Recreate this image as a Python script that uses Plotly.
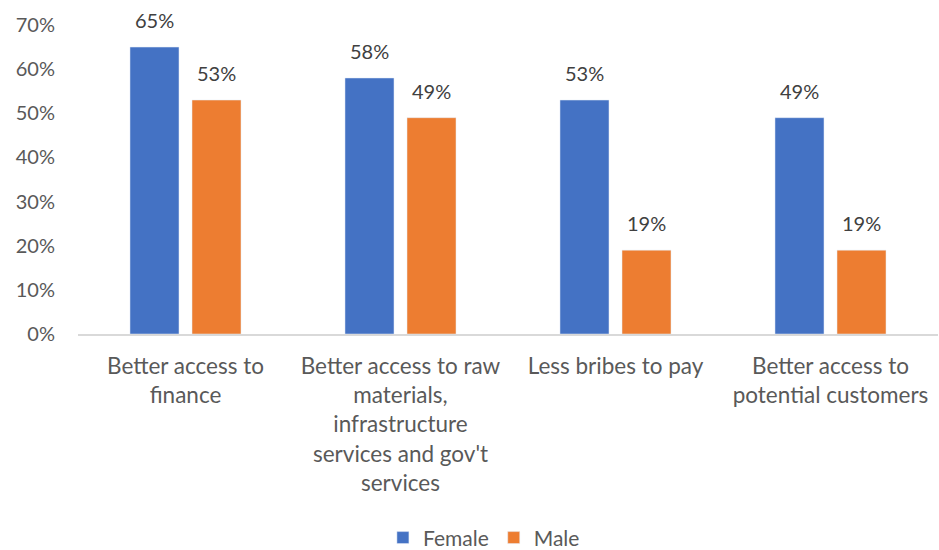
import plotly.graph_objects as go

categories = [
    "Better access to<br>finance",
    "Better access to raw<br>materials,<br>infrastructure<br>services and gov't<br>services",
    "Less bribes to pay",
    "Better access to<br>potential customers",
]
female = [0.65, 0.58, 0.53, 0.49]
male = [0.53, 0.49, 0.19, 0.19]
y_ticks = [0, 0.1, 0.2, 0.3, 0.4, 0.5, 0.6, 0.7]

FONT = "Lato"
GREY = "#595959"
series = [("Female", female, "#4472C4"), ("Male", male, "#ED7D31")]

fig = go.Figure()
for name, vals, color in series:
    fig.add_trace(go.Bar(name=name, x=categories, y=vals, marker_color=color,
                         offsetgroup=name))

fig.update_layout(
    width=939, height=550,
    margin=dict(l=78, r=1, t=25, b=216, autoexpand=False),
    paper_bgcolor="white", plot_bgcolor="white",
    barmode="group", bargap=0.423, bargroupgap=0.21,
    font=dict(family=FONT, size=20, color=GREY),
    showlegend=True,
    legend=dict(orientation="h", x=0.472, xanchor="center", y=-0.66, yanchor="middle",
                font=dict(family=FONT, size=21, color=GREY), itemwidth=30),
    xaxis=dict(showline=True, linecolor="#D9D9D9", linewidth=1.5, ticks="",
               automargin=False, ticklabelstandoff=11,
               tickfont=dict(family=FONT, size=22.5, color=GREY)),
    yaxis=dict(range=[0, 0.7], tickvals=y_ticks, tickformat=".0%", showgrid=False,
               zeroline=False, showline=False, automargin=False,
               ticklabelstandoff=22,
               tickfont=dict(family=FONT, size=20, color=GREY)),
)

# value labels above each bar, placed at the bar's own value
offsets = {"Female": -0.145, "Male": 0.145}
for name, vals, color in series:
    for i, v in enumerate(vals):
        fig.add_annotation(x=i + offsets[name], y=v, xref="x", yref="y",
                           text=f"{round(v * 100)}%", showarrow=False,
                           yanchor="bottom", yshift=13,
                           font=dict(family=FONT, size=20, color="#404040"))

fig.write_html("out.html")
